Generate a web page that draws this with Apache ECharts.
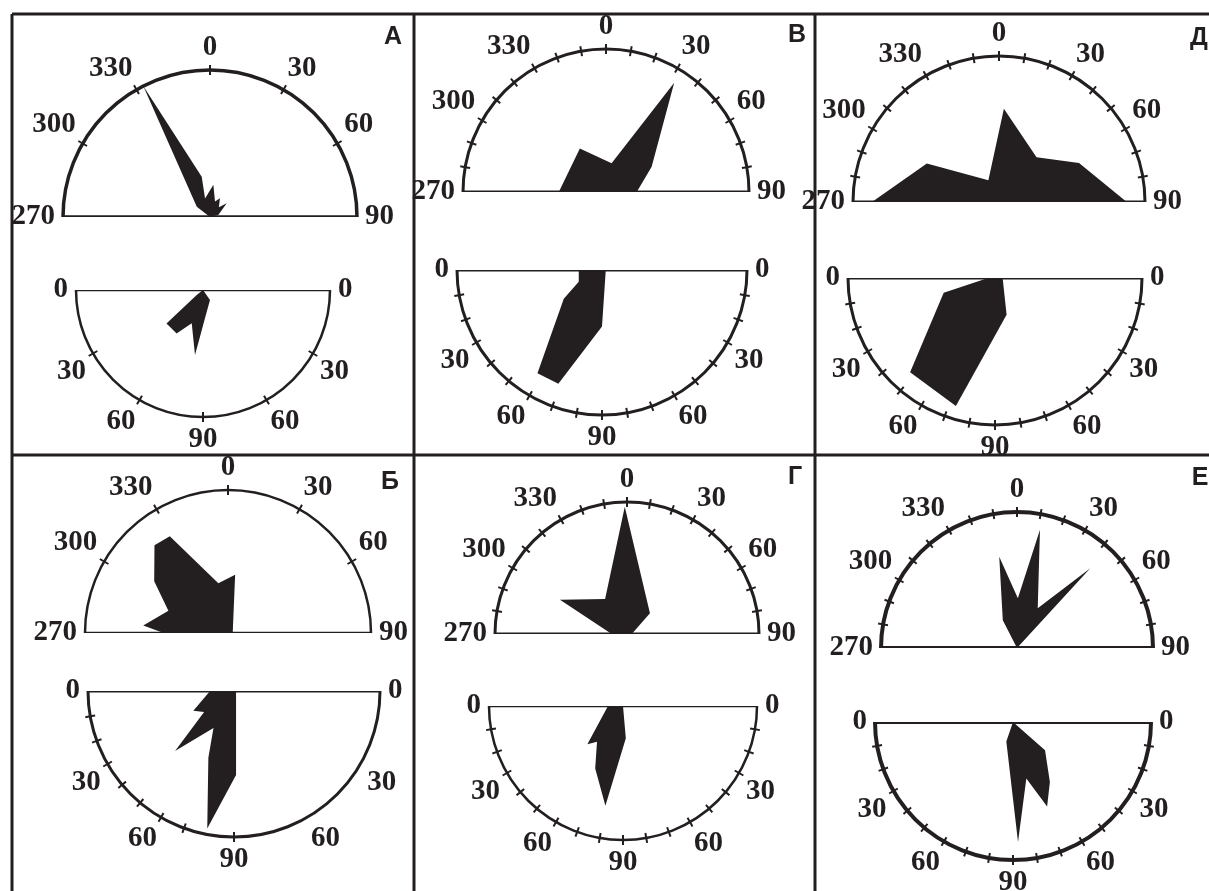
<!DOCTYPE html>
<html>
<head>
<meta charset="utf-8">
<script src="https://cdn.jsdelivr.net/npm/echarts@6/dist/echarts.min.js"></script>
<style>
	html, body {margin: 0; padding: 0; background: #fff;}
	#chart {width: 1209px; height: 891px;}
</style>
</head>
<body>
<div id="chart"></div>
<script>
"use strict";

// rose polygons, vertices as [angle, length]; length is a share of the circle radius
// upper half-circles: strike azimuth, degrees (270..360..90)
// lower half-circles: place on the dip scale, 0 = left end, 90 = bottom, 180 = right end
var strikeA = [[0, 0], [308, 0.114], [333, 1.0], [348.4, 0.28], [345, 0.13], [6, 0.22], [18, 0.11], [28, 0.144], [42, 0.09], [50.6, 0.147], [76, 0.058], [0, 0]];
var dipA = [[0, 0], [38, 0.063], [42.5, 0.39], [58.7, 0.40], [71.3, 0.277], [83, 0.516], [94, 0.223], [125, 0.096], [0, 0]];
var strikeB = [[270, 0.33], [329, 0.355], [11, 0.205], [32, 0.90], [61, 0.365], [90, 0.215], [0, 0]];
var dipB = [[0, 0.16], [27, 0.18], [37, 0.33], [58, 0.84], [69, 0.84], [90, 0.39], [180, 0.026], [0, 0]];
var strikeD = [[270, 0.87], [298, 0.56], [334, 0.166], [3, 0.64], [40, 0.40], [64, 0.61], [90, 0.875], [0, 0]];
var dipD = [[6, 0.068], [16, 0.363], [48, 0.863], [73, 0.91], [107.5, 0.262], [180, 0.052], [0, 0]];
var strikeBe = [[270, 0.45], [275, 0.595], [290.5, 0.445], [305, 0.63], [320, 0.80], [329, 0.79], [349, 0.354], [7, 0.41], [90, 0.033], [0, 0]];
var dipBe = [[0, 0.164], [26, 0.31], [35, 0.25], [45.5, 0.576], [61, 0.29], [69, 0.49], [79, 0.96], [91.4, 0.575], [180, 0.014], [0, 0]];
var strikeG = [[359, 0.965], [48, 0.234], [90, 0.036], [270, 0.116], [297, 0.57], [328, 0.313]];
var dipG = [[0, 0.112], [47, 0.39], [54, 0.33], [66, 0.51], [80, 0.756], [95, 0.242], [0, 0]];
var strikeE = [[0, 0], [333, 0.23], [349, 0.684], [1, 0.365], [11, 0.885], [27.5, 0.33], [42.6, 0.796], [0, 0]];
var dipE = [[0, 0], [138.5, 0.31], [121.6, 0.51], [112, 0.66], [103.3, 0.42], [92.4, 0.87], [71.2, 0.15], [0, 0]];

// scale marks (upper: azimuth as signed degrees, lower: place on the dip scale)
var upLabels = [-90, -60, -30, 0, 30, 60, 90];
var lowLabels = [0, 30, 60, 90, 120, 150, 180];
var upTicks30 = [-60, -30, 0, 30, 60];
var upTicks10 = [-80, -70, -60, -50, -40, -30, -20, -10, 0, 10, 20, 30, 40, 50, 60, 70, 80];
var lowTicks30 = [30, 60, 90, 120, 150];
var lowTicks10 = [10, 20, 30, 40, 50, 60, 70, 80, 90, 100, 110, 120, 130, 140, 150, 160, 170];
var lowTicksLeft = [10, 20, 30, 40, 50, 60, 70, 90];

var panelNames = ['А', 'В', 'Д', 'Б', 'Г', 'Е'];

var ink = '#231f20';

var diagrams = [
	{rose: strikeA, up: true, ticks: upTicks30, center: [210, 217], r: 147, lw: 3.5},
	{rose: dipA, up: false, ticks: lowTicks30, center: [203, 290], r: 127, lw: 2.5},
	{rose: strikeB, up: true, ticks: upTicks10, center: [606, 192], r: 143, lw: 3},
	{rose: dipB, up: false, ticks: lowTicks10, center: [602, 270], r: 145, lw: 3},
	{rose: strikeD, up: true, ticks: upTicks10, center: [999, 202], r: 146, lw: 3},
	{rose: dipD, up: false, ticks: lowTicks10, center: [995, 278], r: 147, lw: 3},
	{rose: strikeBe, up: true, ticks: upTicks30, center: [228, 633], r: 143, lw: 2.5},
	{rose: dipBe, up: false, ticks: lowTicksLeft, center: [234, 691], r: 146, lw: 3},
	{rose: strikeG, up: true, ticks: upTicks10, center: [627, 634], r: 132, lw: 3},
	{rose: dipG, up: false, ticks: lowTicks10, center: [623, 706], r: 134, lw: 2.5},
	{rose: strikeE, up: true, ticks: upTicks10, center: [1017, 648], r: 136, lw: 4},
	{rose: dipE, up: false, ticks: lowTicks10, center: [1013, 722], r: 138, lw: 4}
];

var letterPos = [[393, 37], [797, 35], [1199, 38], [390, 482], [795, 477], [1200, 478]];

function signedAz(a) {
	return a > 180 ? a - 360 : a;
}

var polar = [], angleAxis = [], radiusAxis = [], series = [];

diagrams.forEach(function (d, i) {
	var main = i * 2, over = i * 2 + 1;
	var axisBase = {
		type: 'value',
		min: d.up ? -90 : 0,
		max: d.up ? 90 : 180,
		startAngle: 180,
		endAngle: d.up ? 0 : 360,
		clockwise: d.up,
		splitLine: {show: false},
		splitArea: {show: false}
	};

	// main circle: arc, outer ticks, labels
	polar.push({center: d.center, radius: d.r});
	angleAxis.push(Object.assign({}, axisBase, {
		polarIndex: main,
		axisLine: {lineStyle: {color: ink, width: d.lw}},
		axisTick: {customValues: d.ticks, length: 5, lineStyle: {color: ink, width: 2}},
		axisLabel: {
			customValues: d.up ? upLabels : lowLabels,
			margin: 8,
			color: ink,
			fontFamily: 'Liberation Serif',
			fontWeight: 'bold',
			fontSize: 29,
			formatter: function (v) {
				if (d.up) {
					return String(v < 0 ? v + 360 : v);
				}
				return String(v <= 90 ? v : 180 - v);
			}
		}
	}));
	radiusAxis.push({polarIndex: main, min: 0, max: 1, show: false, splitLine: {show: false}});

	// same circle again, only to draw the inner half of each tick
	polar.push({center: d.center, radius: d.r});
	angleAxis.push(Object.assign({}, axisBase, {
		polarIndex: over,
		axisLine: {show: false},
		axisTick: {customValues: d.ticks, inside: true, length: 5, lineStyle: {color: ink, width: 2}},
		axisLabel: {show: false}
	}));
	radiusAxis.push({polarIndex: over, min: 0, max: 1, show: false, splitLine: {show: false}});

	// diameter line
	series.push({
		type: 'line',
		coordinateSystem: 'polar',
		polarIndex: main,
		data: d.up ? [[1, -90], [1, 90]] : [[1, 0], [1, 180]],
		showSymbol: false,
		clip: false,
		silent: true,
		lineStyle: {color: ink, width: d.lw}
	});

	// rose polygon
	var pts = d.rose.map(function (v) {
		return [v[1], d.up ? signedAz(v[0]) : v[0]];
	});
	series.push({
		type: 'custom',
		coordinateSystem: 'polar',
		polarIndex: main,
		data: pts,
		silent: true,
		z: 3,
		renderItem: function (params, api) {
			if (params.dataIndex !== 0) {
				return;
			}
			var shape = pts.map(function (p) {
				return api.coord(p);
			});
			return {type: 'polygon', shape: {points: shape}, style: {fill: ink}};
		}
	});
});

// panel frame and letters
var graphic = [];
var frame = [
	[12, 14, 1209, 14],
	[12, 455, 1209, 455],
	[12, 14, 12, 891],
	[414, 14, 414, 891],
	[815, 14, 815, 891]
];
frame.forEach(function (f) {
	graphic.push({
		type: 'line', z: 100,
		shape: {x1: f[0], y1: f[1], x2: f[2], y2: f[3]},
		style: {stroke: ink, lineWidth: 3}
	});
});
panelNames.forEach(function (n, i) {
	graphic.push({
		type: 'text', z: 100,
		x: letterPos[i][0], y: letterPos[i][1],
		style: {
			text: n, fill: ink,
			font: 'bold 25px "Liberation Sans"',
			align: 'center', verticalAlign: 'middle'
		}
	});
});

var chart = echarts.init(document.getElementById('chart'));
chart.setOption({
	animation: false,
	backgroundColor: '#fff',
	polar: polar,
	angleAxis: angleAxis,
	radiusAxis: radiusAxis,
	series: series,
	graphic: graphic
});
</script>
</body>
</html>
